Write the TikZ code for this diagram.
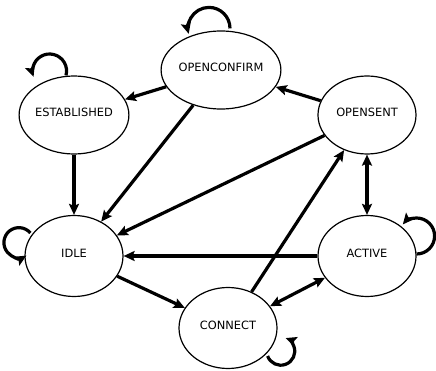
\documentclass[tikz,border=0pt]{standalone}
\usepackage{fontspec}
\setmainfont{DejaVu Sans}
\usetikzlibrary{arrows.meta}
\usetikzlibrary{shapes.geometric}
\tikzset{state/.style = {draw, ellipse, line width = 1.2pt, inner sep = 0, minimum width = 98pt, minimum height = 78pt, text depth = 6pt, font = \fontsize{11.4}{13}\selectfont}}
\tikzset{trans/.style = {line width = 3.2pt}}

\begin{document}
\begin{tikzpicture}[x = 1pt, y = 1pt, >={Stealth[length = 11pt, width = 10pt, inset = 2pt]}]
  \useasboundingbox (0, 0) rectangle (436, 370);
  \node [state] (openconfirm) at (221, 300) {OPENCONFIRM};
  \node [state] (established) at (74, 255) {ESTABLISHED};
  \node [state] (opensent) at (367, 255) {OPENSENT};
  \node [state, minimum height = 81pt] (idle) at (74, 114) {IDLE};
  \node [state, minimum height = 81pt] (active) at (367, 114) {ACTIVE};
  \node [state, minimum height = 81pt] (connect) at (228, 42) {CONNECT};

  \draw [trans, ->] (openconfirm) -- (established);
  \draw [trans, ->] (opensent) -- (openconfirm);
  \draw [trans, ->] (openconfirm) -- (idle);
  \draw [trans, ->] (opensent) -- (idle);
  \draw [trans, ->] (established) -- (idle);
  \draw [trans, <->] (opensent) -- (active);
  \draw [trans, ->] (connect) -- (opensent);
  \draw [trans, ->] (active) -- (idle);
  \draw [trans, ->] (idle) -- (connect);
  \draw [trans, <->] (connect) -- (active);

  % loops
  \draw [trans, ->] (openconfirm.north) ++(9, 2) arc [start angle = 0, end angle = 195, radius = 21];
  \draw [trans, ->] (established.north) ++(-8, 0) arc [start angle = -15, end angle = 200, radius = 17];
  \draw [trans, ->] (idle.west) ++(6, 23) arc [start angle = 40, end angle = 300, radius = 15];
  \draw [trans, ->] (active.east) ++(0, 2) arc [start angle = -90, end angle = 140, radius = 18];
  \draw [trans, ->] (connect.east) ++(-10, -28) arc [start angle = 200, end angle = 430, radius = 14];
\end{tikzpicture}
\end{document}
